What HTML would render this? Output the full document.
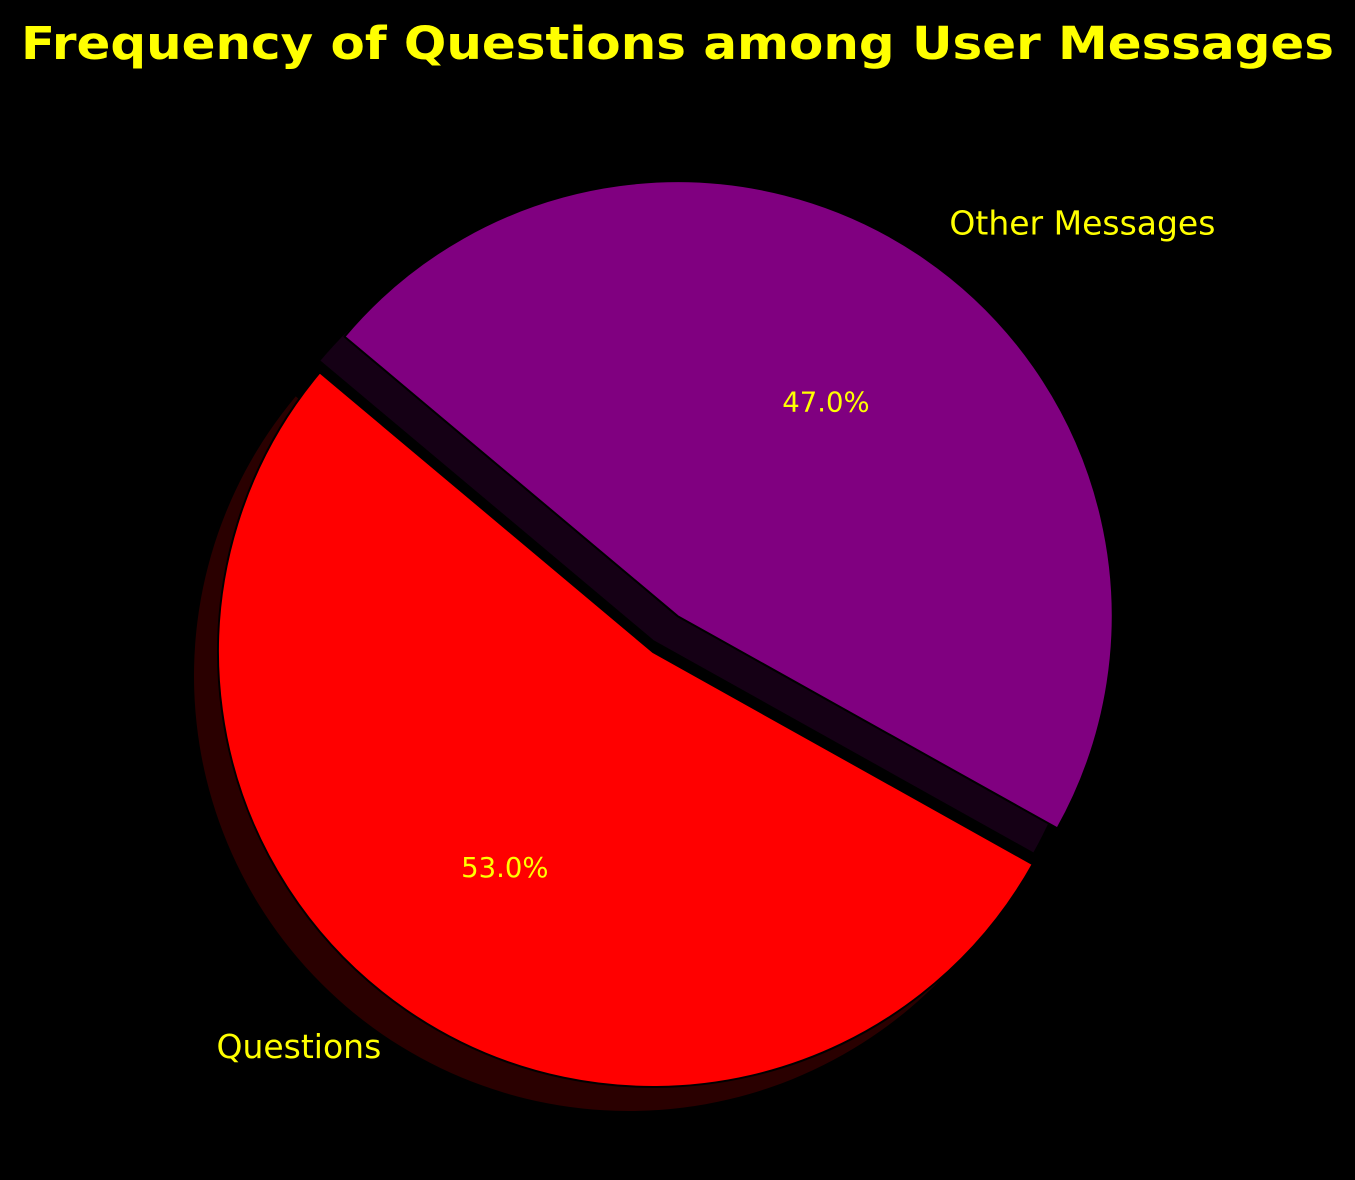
<!DOCTYPE html>
<html><head><meta charset="utf-8"><style>
html,body{margin:0;padding:0;background:#000;}
svg{display:block;font-family:"DejaVu Sans","Liberation Sans",sans-serif;}
</style></head><body>
<svg id="chart" width="1355" height="1180" viewBox="0 0 1355 1180" xmlns="http://www.w3.org/2000/svg">
<rect width="1355" height="1180" fill="#000"/>
<text x="677.5" y="59" text-anchor="middle" font-size="45" font-weight="bold" fill="#ffff00" textLength="1313" lengthAdjust="spacingAndGlyphs">Frequency of Questions among User Messages</text>
<g id="shadows"></g>
<g id="slices"></g>
<g id="labels"></g>
</svg>
<script>
const categories = ["Questions", "Other Messages"];
const values = [53, 47];
const explode = [0, 0.1];
const colors = ["#ff0000", "#800080"];
const shadowColors = ["#2a0000", "#150015"];
const startAngle = 140;
const cx = 653, cy = 652, R = 435;
const NS = "http://www.w3.org/2000/svg";
const total = values.reduce((a,b)=>a+b,0);
function pt(x,y,a,r){const t=a*Math.PI/180;return [x+r*Math.cos(t), y-r*Math.sin(t)];}
function wedge(x,y,a0,a1){
  const p0=pt(x,y,a0,R), p1=pt(x,y,a1,R);
  const large=(a1-a0)>180?1:0;
  return `M${x},${y} L${p0[0]},${p0[1]} A${R},${R} 0 ${large} 0 ${p1[0]},${p1[1]} Z`;
}
const sh=document.getElementById('shadows'), sl=document.getElementById('slices'), lb=document.getElementById('labels');
let a=startAngle;
const geo=[];
values.forEach((v,i)=>{
  const span=v/total*360, mid=a+span/2;
  const [ox,oy]=pt(0,0,mid,explode[i]*R);
  geo.push({a0:a,a1:a+span,mid,x:cx+ox,y:cy+oy});
  a+=span;
});
geo.forEach((g,i)=>{
  const s=document.createElementNS(NS,'path');
  s.setAttribute('d',wedge(g.x-24,g.y+24,g.a0,g.a1));
  s.setAttribute('fill',shadowColors[i]);
  
  
  sh.appendChild(s);
});
geo.forEach((g,i)=>{
  const p=document.createElementNS(NS,'path');
  p.setAttribute('d',wedge(g.x,g.y,g.a0,g.a1));
  p.setAttribute('fill',colors[i]);
  p.setAttribute('stroke','#000');
  p.setAttribute('stroke-width','2');
  p.setAttribute('stroke-linejoin','round');
  
  
  sl.appendChild(p);
  const lp=pt(g.x,g.y,g.mid,1.1*R);
  const t=document.createElementNS(NS,'text');
  t.setAttribute('x',lp[0]); t.setAttribute('y',lp[1]+12);
  t.setAttribute('text-anchor', Math.cos(g.mid*Math.PI/180)<0?'end':'start');
  t.setAttribute('font-size','33'); t.setAttribute('fill','#ffff00');
  t.textContent=categories[i];
  
  
  lb.appendChild(t);
  const pp=pt(g.x,g.y,g.mid,0.6*R);
  const q=document.createElementNS(NS,'text');
  q.setAttribute('x',pp[0]); q.setAttribute('y',pp[1]+10);
  q.setAttribute('text-anchor','middle');
  q.setAttribute('font-size','27.5'); q.setAttribute('fill','#ffff00');
  q.textContent=(values[i]/total*100).toFixed(1)+'%';
  
  
  lb.appendChild(q);
});
</script>
</body></html>
